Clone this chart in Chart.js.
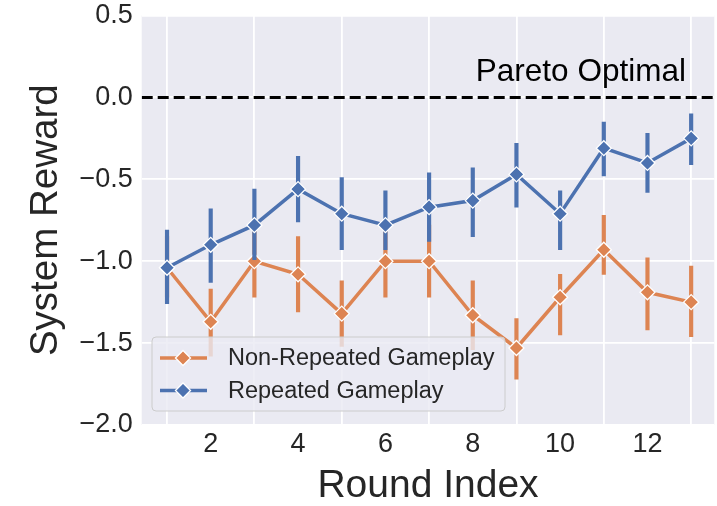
<!DOCTYPE html>
<html>
<head>
<meta charset="utf-8">
<script src="https://cdn.jsdelivr.net/npm/chart.js@4.4.1/dist/chart.umd.min.js"></script>
<style>
  html, body { margin: 0; padding: 0; background: #ffffff; }
  canvas { display: block; }
</style>
</head>
<body>
<canvas id="c" width="717" height="506"></canvas>
<script>
// Round indices
const rounds = [1, 2, 3, 4, 5, 6, 7, 8, 9, 10, 11, 12, 13];

// Non-repeated gameplay: mean system reward and confidence interval bounds
const nonRepeatedMean = [-1.04, -1.37, -1.00, -1.08, -1.32, -1.00, -1.00, -1.33, -1.53, -1.22, -0.93, -1.19, -1.25];
const nonRepeatedLow  = [-1.22, -1.58, -1.22, -1.31, -1.52, -1.22, -1.22, -1.54, -1.72, -1.45, -1.08, -1.42, -1.46];
const nonRepeatedHigh = [-0.85, -1.17, -0.80, -0.85, -1.12, -0.78, -0.78, -1.12, -1.35, -1.08, -0.72, -0.98, -1.03];

// Repeated gameplay: mean system reward and confidence interval bounds
const repeatedMean = [-1.04, -0.90, -0.78, -0.56, -0.71, -0.78, -0.67, -0.63, -0.47, -0.71, -0.31, -0.40, -0.25];
const repeatedLow  = [-1.26, -1.13, -0.99, -0.76, -0.93, -0.93, -0.88, -0.85, -0.67, -0.93, -0.48, -0.58, -0.41];
const repeatedHigh = [-0.81, -0.68, -0.56, -0.36, -0.49, -0.57, -0.46, -0.43, -0.28, -0.57, -0.15, -0.22, -0.10];

// Axis ticks
const xTicks = [2, 4, 6, 8, 10, 12];
const yTicks = [-2.0, -1.5, -1.0, -0.5, 0.0, 0.5];

// Reference level
const paretoLevel = 0.0;
const paretoLabel = 'Pareto Optimal';

const ORANGE = '#DD8452';
const BLUE = '#4C72B0';
const TEXT = '#262626';
const FONT = '"Liberation Sans", Arial, Helvetica, sans-serif';

const points = (ys) => rounds.map((x, i) => ({ x, y: ys[i] }));
const ranges = (lo, hi) => rounds.map((x, i) => ({ x, y: [lo[i], hi[i]] }));

function errDataset(lo, hi, color, order) {
  return {
    type: 'bar',
    data: ranges(lo, hi),
    backgroundColor: color,
    borderWidth: 0,
    barThickness: 3.5,
    grouped: false,
    order,
    inLegend: false
  };
}

function lineDataset(label, ys, color, order) {
  return {
    type: 'line',
    label,
    data: points(ys),
    borderColor: color,
    backgroundColor: color,
    borderWidth: 3.5,
    tension: 0,
    fill: false,
    pointStyle: 'rectRot',
    pointRadius: 7.5,
    pointBackgroundColor: color,
    pointBorderColor: '#ffffff',
    pointBorderWidth: 1.3,
    order,
    inLegend: true
  };
}

// Drop the automatic label overflow padding so the plot area follows layout.padding exactly
function noAutoPadding(s) {
  s.paddingTop = 0; s.paddingBottom = 0; s.paddingLeft = 0; s.paddingRight = 0;
}

const plotBackground = {
  id: 'plotBackground',
  beforeDraw(chart) {
    const { ctx, chartArea: a } = chart;
    ctx.save();
    ctx.fillStyle = '#EAEAF2';
    ctx.fillRect(a.left, a.top, a.right - a.left, a.bottom - a.top);
    ctx.restore();
  }
};

const paretoLine = {
  id: 'paretoLine',
  afterDatasetsDraw(chart) {
    const { ctx, chartArea: a, scales } = chart;
    const y = scales.y.getPixelForValue(paretoLevel);
    ctx.save();
    ctx.beginPath();
    ctx.rect(a.left, a.top, a.right - a.left, a.bottom - a.top);
    ctx.clip();
    ctx.strokeStyle = '#000000';
    ctx.lineWidth = 3;
    ctx.setLineDash([11, 5]);
    ctx.beginPath();
    ctx.moveTo(a.left, y);
    ctx.lineTo(a.right, y);
    ctx.stroke();
    ctx.setLineDash([]);
    ctx.fillStyle = '#000000';
    ctx.font = '31.5px ' + FONT;
    ctx.textAlign = 'left';
    ctx.textBaseline = 'alphabetic';
    ctx.fillText(paretoLabel, scales.x.getPixelForValue(8.07), scales.y.getPixelForValue(paretoLevel + 0.1));
    ctx.restore();
  }
};

const boxLegend = {
  id: 'boxLegend',
  afterDatasetsDraw(chart) {
    const { ctx } = chart;
    const items = chart.data.datasets.filter(d => d.inLegend);
    const bx = 152, by = 337, bw = 353, bh = 74, r = 4;
    ctx.save();
    ctx.beginPath();
    ctx.roundRect(bx, by, bw, bh, r);
    ctx.fillStyle = 'rgba(234,234,242,0.8)';
    ctx.fill();
    ctx.strokeStyle = '#CCCCCC';
    ctx.lineWidth = 1;
    ctx.stroke();
    items.forEach((d, i) => {
      const cy = 358 + i * 32.5;
      ctx.strokeStyle = d.borderColor;
      ctx.lineWidth = 3.5;
      ctx.beginPath();
      ctx.moveTo(160, cy);
      ctx.lineTo(207, cy);
      ctx.stroke();
      ctx.fillStyle = d.borderColor;
      ctx.strokeStyle = '#ffffff';
      ctx.beginPath();
      ctx.moveTo(183 - 7.5, cy);
      ctx.lineTo(183, cy - 7.5);
      ctx.lineTo(183 + 7.5, cy);
      ctx.lineTo(183, cy + 7.5);
      ctx.closePath();
      ctx.fill();
      ctx.lineWidth = 1.3;
      ctx.stroke();
      ctx.fillStyle = TEXT;
      ctx.font = '23.5px ' + FONT;
      ctx.textAlign = 'left';
      ctx.textBaseline = 'middle';
      ctx.fillText(d.label, 228, cy + 1);
    });
    ctx.restore();
  }
};

const fmt = (v) => (v < 0 ? '\u2212' : '') + Math.abs(v).toFixed(1);

new Chart(document.getElementById('c'), {
  type: 'line',
  data: {
    datasets: [
      errDataset(nonRepeatedLow, nonRepeatedHigh, ORANGE, 4),
      lineDataset('Non-Repeated Gameplay', nonRepeatedMean, ORANGE, 3),
      errDataset(repeatedLow, repeatedHigh, BLUE, 2),
      lineDataset('Repeated Gameplay', repeatedMean, BLUE, 1)
    ]
  },
  options: {
    responsive: false,
    animation: false,
    events: [],
    layout: { autoPadding: false, padding: { top: 15.5, right: 2.7, left: 0, bottom: 0 } },
    scales: {
      x: {
        type: 'linear',
        min: 0.42,
        max: 13.53,
        offset: false,
        grid: { color: '#ffffff', lineWidth: 1.8, drawTicks: false },
        border: { display: false },
        afterBuildTicks: (s) => { s.ticks = xTicks.map(v => ({ value: v })); },
        afterFit: (s) => { s.height = 81; noAutoPadding(s); },
        ticks: { color: TEXT, font: { family: FONT, size: 27 }, padding: 3.5, maxRotation: 0, autoSkip: false },
        title: { display: true, text: 'Round Index', color: TEXT, font: { family: FONT, size: 39, lineHeight: 1 }, padding: { top: 0, bottom: 0 } }
      },
      y: {
        type: 'linear',
        min: -2,
        max: 0.5,
        grid: { color: '#ffffff', lineWidth: 1.8, drawTicks: false },
        border: { display: false },
        afterBuildTicks: (s) => { s.ticks = yTicks.map(v => ({ value: v })); },
        afterFit: (s) => { s.width = 141.7; noAutoPadding(s); },
        ticks: { color: TEXT, font: { family: FONT, size: 27 }, padding: 9, callback: (v) => fmt(v) },
        title: { display: true, text: 'System Reward', color: TEXT, font: { family: FONT, size: 38.5, lineHeight: 1 }, padding: { top: 27, bottom: 0 } }
      }
    },
    plugins: {
      legend: { display: false },
      tooltip: { enabled: false }
    }
  },
  plugins: [plotBackground, paretoLine, boxLegend]
});
</script>
</body>
</html>
